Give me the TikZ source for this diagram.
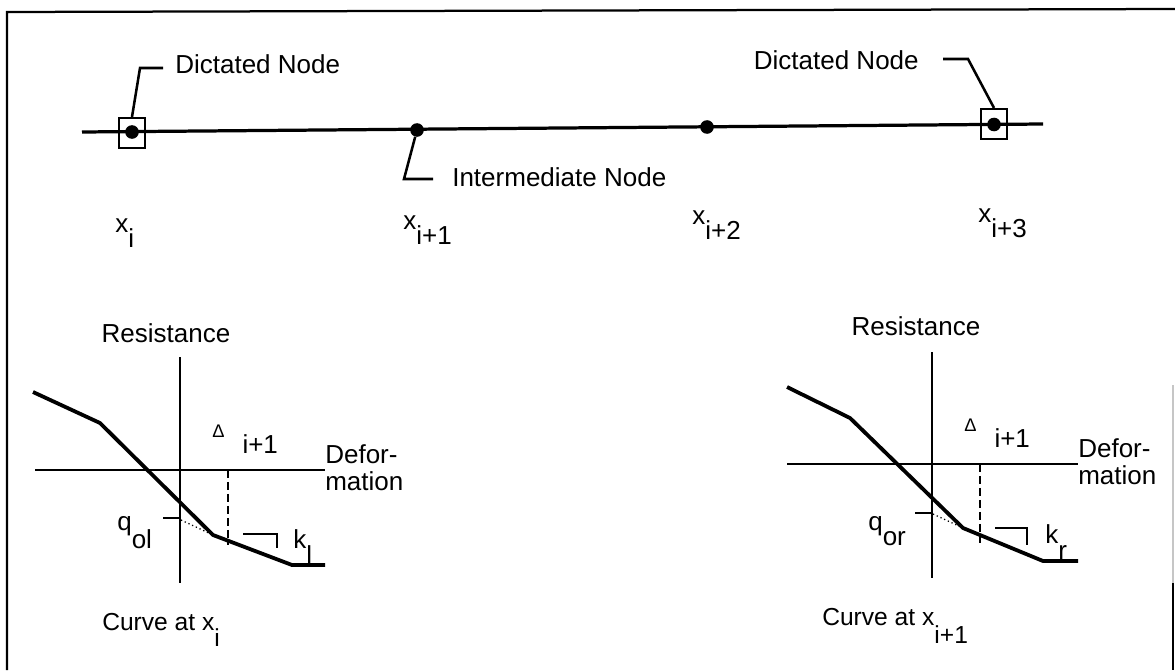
\documentclass[tikz,border=0pt]{standalone}
\usepackage{fontspec}
\setmainfont{Liberation Sans}
\usetikzlibrary{positioning}

\newcommand{\lowsub}[2][0.38cm]{\raisebox{-#1}{#2}}

\begin{document}
\begin{tikzpicture}[
    x=0.025cm, y=-0.025cm,
    font=\fontsize{18.5}{19.2}\selectfont,
    lbl/.style={inner sep=0pt, anchor=base west},
    tag/.style={inner xsep=0.3cm, inner ysep=0pt},
    caption/.style={lbl, font=\fontsize{17.5}{19}\selectfont},
    beam/.style={line width=2.3pt},
    leader/.style={line width=1.8pt},
    axis/.style={line width=1.6pt},
    curve/.style={line width=2.7pt, line join=round},
    qline/.style={line width=1.7pt},
    slopeline/.style={line width=1.7pt},
    guideline/.style={line width=0.8pt, dash pattern=on 5.5pt off 3pt},
    extline/.style={line width=0.9pt, dotted},
    dictated/.style={draw, line width=1.5pt, minimum width=0.65cm, minimum height=0.75cm, inner sep=0pt},
    ndot/.style={circle, fill, inner sep=0pt, minimum size=0.34cm},
  ]
  \useasboundingbox (0,0) rectangle (1175,670);

  % frame
  \draw[axis] (7,670) -- (7,12) -- (1175,9);
  \draw[gray!45, line width=0.8pt] (1173,385) -- (1173,583);
  \draw[axis] (1173,583) -- (1173,670);

  % beam with nodes
  \coordinate (beamW) at (82,132);
  \coordinate (beamE) at (1043,124);
  \draw[beam] (beamW) -- (beamE);

  \node[dictated] (dictL) at (132,133) {};
  \node[ndot]     (ptL)   at (132,132) {};
  \node[ndot]     (ptM1)  at (417,130) {};
  \node[ndot]     (ptM2)  at (707,127) {};
  \node[dictated] (dictR) at (994,124) {};
  \node[ndot]     (ptR)   at (994,124.5) {};

  \node[tag, anchor=base west] (labL) at (163,73) {Dictated Node};
  \coordinate (bendL) at (140,68);
  \draw[leader] (dictL.north) -- (bendL) -- (bendL -| labL.west);

  \node[tag, inner xsep=0.6cm, anchor=base east] (labR) at (943,70) {Dictated Node};
  \coordinate (bendR) at (968,59);
  \draw[leader] (dictR.north) -- (bendR) -- (bendR -| labR.east);

  \node[tag, inner xsep=0.475cm, anchor=base west] (labM) at (433,186) {Intermediate Node};
  \coordinate (bendM) at (404,179);
  \draw[leader] (ptM1) -- (bendM) -- (bendM -| labM.west);

  \node[lbl] (xi)  at (115,232) {x\lowsub{i}};
  \node[lbl] (xi1) at (403,229) {x\lowsub{i+1}};
  \node[lbl] (xi2) at (692,224) {x\lowsub{i+2}};
  \node[lbl] (xi3) at (978,222) {x\lowsub{i+3}};

  % curve at x_i
  \draw[axis] (35,470) -- (325,470);
  \draw[axis] (180,357) -- (180,583);
  \draw[curve] (33,392) -- (100,423) -- (213,535) -- (292,565) -- (325,565);
  \draw[extline] (181,520) -- (213,535);
  \draw[qline] (163,518) -- (180,518);
  \draw[guideline] (228,470) -- (228,545);
  \draw[slopeline] (243,534) -- (277,534) -- (277,548);

  \node[lbl, anchor=base] (resL) at (166,342) {Resistance};
  \node[lbl] (dltL) at (212,453) {\raisebox{0.4cm}{\fontsize{13}{13}\selectfont Δ}\hspace{0.45cm}i+1};
  \node[inner sep=0pt, anchor=west, align=left] (defL) at (325,468) {Defor-\\mation};
  \node[lbl] (qL) at (117,530) {q\lowsub[0.45cm]{ol}};
  \node[lbl] (kL) at (293,548) {k\lowsub[0.42cm]{l}};
  \node[caption] (capL) at (102,630) {Curve at x\lowsub[0.42cm]{i}};

  % curve at x_i+1
  \draw[axis] (787,464) -- (1078,464);
  \draw[axis] (932,352) -- (932,578);
  \draw[curve] (787,387) -- (850,418) -- (963,528) -- (1043,561) -- (1078,561);
  \draw[extline] (933,514) -- (963,528);
  \draw[qline] (915,513) -- (932,513);
  \draw[guideline] (980,464) -- (980,545);
  \draw[slopeline] (995,528) -- (1027,528) -- (1027,545);

  \node[lbl, anchor=base] (resR) at (916,335) {Resistance};
  \node[lbl] (dltR) at (964,447) {\raisebox{0.4cm}{\fontsize{13}{13}\selectfont Δ}\hspace{0.45cm}i+1};
  \node[inner sep=0pt, anchor=west, align=left] (defR) at (1078,462) {Defor-\\mation};
  \node[lbl] (qR) at (868,530) {q\lowsub{or}};
  \node[lbl] (kR) at (1045,543) {k\lowsub[0.42cm]{r}};
  \node[caption] (capR) at (822,625) {Curve at x\lowsub[0.45cm]{i+1}};
\end{tikzpicture}
\end{document}
